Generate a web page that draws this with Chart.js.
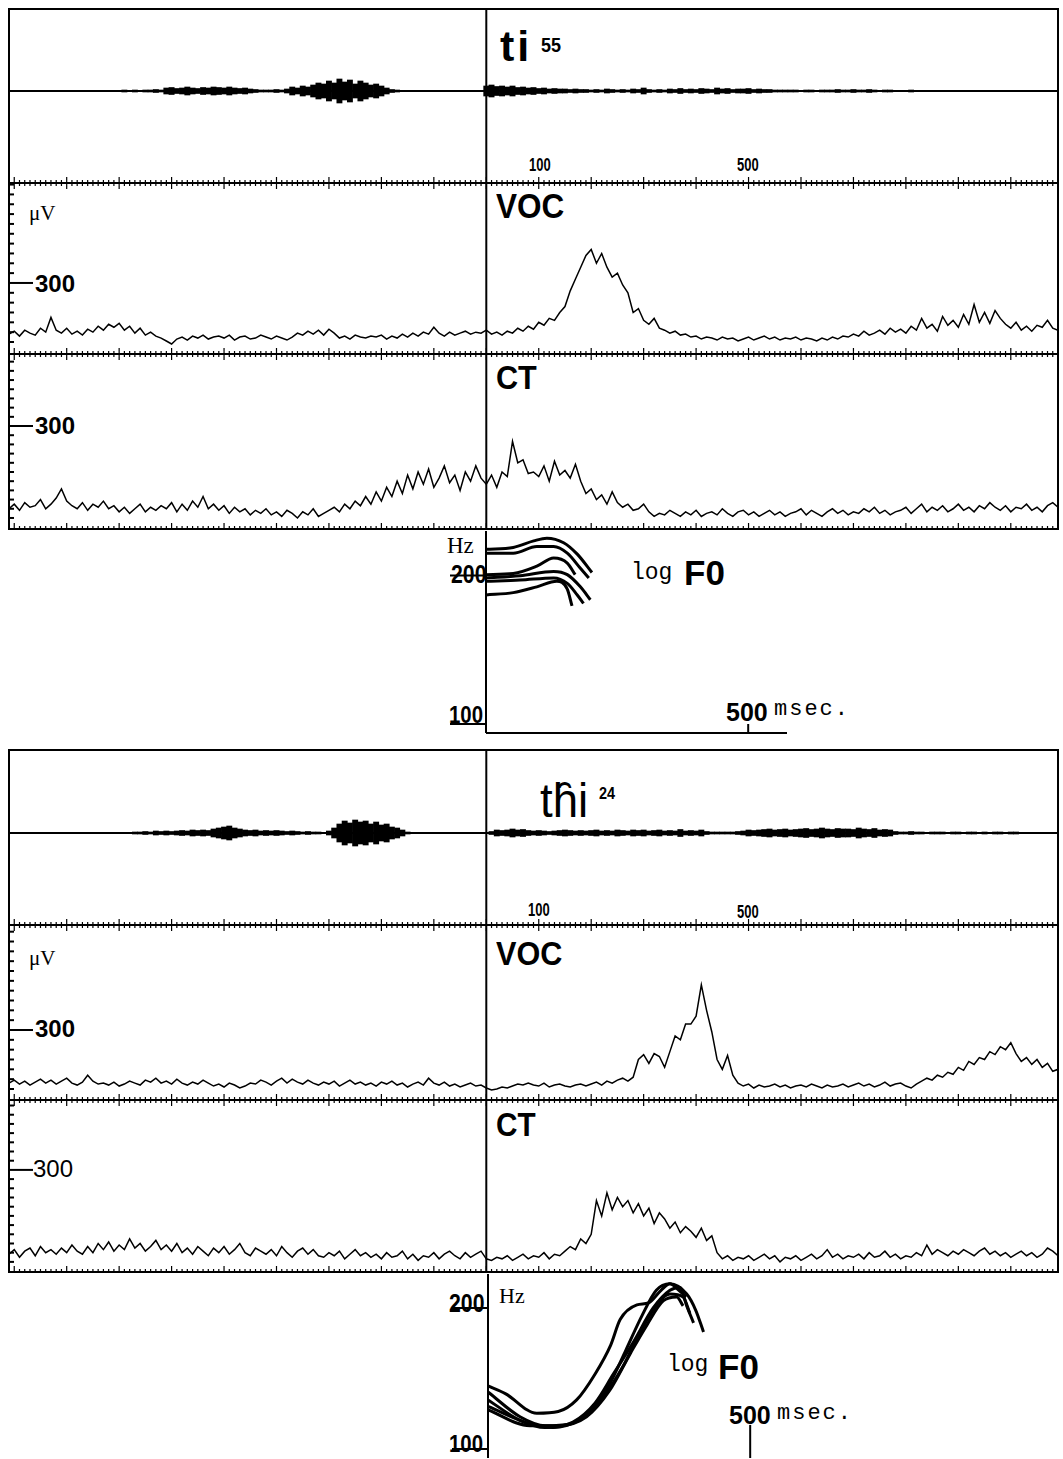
<!DOCTYPE html>
<html>
<head>
<meta charset="utf-8">
<script src="https://cdn.jsdelivr.net/npm/chart.js@4.4.1/dist/chart.umd.min.js"></script>
<style>
  html, body { margin: 0; padding: 0; background: #fff; }
  body { width: 1063px; height: 1459px; position: relative; overflow: hidden; }
  canvas { position: absolute; }
  .lbl { position: absolute; color: #000; white-space: nowrap; line-height: 1; transform-origin: left top; }
  .sans { font-family: "Liberation Sans", Arial, sans-serif; font-weight: bold; }
  .mono { font-family: "Liberation Mono", "DejaVu Sans Mono", monospace; }
  .serif { font-family: "Liberation Serif", "DejaVu Serif", serif; }
</style>
</head>
<body>

<!-- upper record: ti55 -->
<div class="lbl sans" style="left:500px;top:25px;font-size:43px;letter-spacing:3px">ti</div>
<div class="lbl sans" style="left:541px;top:35px;font-size:20px;transform:scaleX(0.9)">55</div>
<div class="lbl sans" style="left:529px;top:156px;font-size:18px;transform:scaleX(0.72)">100</div>
<div class="lbl sans" style="left:737px;top:156px;font-size:18px;transform:scaleX(0.72)">500</div>
<div class="lbl sans" style="left:496px;top:188px;font-size:35px;transform:scaleX(0.9)">VOC</div>
<div class="lbl serif" style="left:29px;top:203px;font-size:21px">μV</div>
<div class="lbl sans" style="left:35px;top:272px;font-size:24px">300</div>
<div class="lbl sans" style="left:496px;top:360px;font-size:34px;transform:scaleX(0.9)">CT</div>
<div class="lbl sans" style="left:35px;top:414px;font-size:24px">300</div>
<div class="lbl serif" style="left:447px;top:534px;font-size:23px">Hz</div>
<div class="lbl sans" style="left:451px;top:562px;font-size:25px;transform:scaleX(0.85)">200</div>
<div class="lbl mono" style="left:631px;top:562px;font-size:23px">log</div>
<div class="lbl sans" style="left:684px;top:555px;font-size:35px">F0</div>
<div class="lbl sans" style="left:449px;top:703px;font-size:24px;transform:scaleX(0.85)">100</div>
<div class="lbl sans" style="left:726px;top:700px;font-size:25px">500</div>
<div class="lbl mono" style="left:774px;top:699px;font-size:22px;letter-spacing:2px">msec.</div>

<!-- lower record: thi24 -->
<div class="lbl sans" style="left:540px;top:777px;font-size:48px;font-weight:normal;transform:scaleX(0.95)">th&#x311;i</div>
<div class="lbl sans" style="left:599px;top:785px;font-size:17px;transform:scaleX(0.85)">24</div>
<div class="lbl sans" style="left:528px;top:901px;font-size:18px;transform:scaleX(0.72)">100</div>
<div class="lbl sans" style="left:737px;top:903px;font-size:18px;transform:scaleX(0.72)">500</div>
<div class="lbl sans" style="left:496px;top:936px;font-size:34px;transform:scaleX(0.9)">VOC</div>
<div class="lbl serif" style="left:29px;top:948px;font-size:21px">μV</div>
<div class="lbl sans" style="left:35px;top:1017px;font-size:24px">300</div>
<div class="lbl sans" style="left:496px;top:1108px;font-size:33px;transform:scaleX(0.9)">CT</div>
<div class="lbl sans" style="left:33px;top:1157px;font-size:24px;font-weight:normal">300</div>
<div class="lbl sans" style="left:449px;top:1291px;font-size:25px;transform:scaleX(0.85)">200</div>
<div class="lbl serif" style="left:499px;top:1285px;font-size:22px">Hz</div>
<div class="lbl mono" style="left:667px;top:1354px;font-size:23px">log</div>
<div class="lbl sans" style="left:718px;top:1349px;font-size:35px">F0</div>
<div class="lbl sans" style="left:449px;top:1432px;font-size:24px;transform:scaleX(0.85)">100</div>
<div class="lbl sans" style="left:729px;top:1403px;font-size:25px">500</div>
<div class="lbl mono" style="left:777px;top:1403px;font-size:22px;letter-spacing:2px">msec.</div>

<canvas id="a1"></canvas><canvas id="v1"></canvas><canvas id="c1"></canvas><canvas id="f1"></canvas>
<canvas id="a2"></canvas><canvas id="v2"></canvas><canvas id="c2"></canvas><canvas id="f2"></canvas>

<script>
// every trace is sampled from -910 ms every 10 ms (201 samples), 0 = vertical line
const sampleStart = -910;
const sampleStep = 10;

// audio waveform envelope, relative amplitude
const ti55Audio = [
  0, 0, 0, 0, 0, 0, 0, 0, 0, 0,
  0, 0, 0, 0, 0, 0, 0, 0, 0, 0.5,
  0.5, 0.5, 1, 0.5, 1, 0.5, 1, 1, 1.5, 1,
  3, 3.5, 2.5, 3, 4, 3, 2.5, 3.5, 3, 4,
  3.5, 3, 4, 3, 2.5, 3, 2, 1.5, 1, 1,
  1, 1.5, 1, 2, 4, 3, 5, 4, 6, 8,
  7, 10, 8, 12, 9, 11, 7, 10, 8, 6,
  7, 5, 3, 1.5, 1, 0.5, 0.5, 0.5, 0.5, 0.5,
  0.5, 0.5, 0.5, 0.5, 0.5, 0, 0, 0, 0, 0,
  0, 5, 6, 4.5, 5, 4, 5, 3.5, 4, 3,
  3.5, 2.5, 3, 2, 2.5, 2, 2, 1.5, 2, 1.5,
  1.5, 1, 1.5, 1, 2, 1.5, 1, 1.5, 1, 2,
  1.5, 3, 1.5, 1, 1.5, 1, 2, 1.5, 2.5, 1.5,
  2, 1.5, 2.5, 2, 1.5, 3, 2, 2.5, 1.5, 2,
  2, 2.5, 1.5, 2, 1.5, 1.5, 1, 1, 1, 1,
  1, 0.5, 1, 1, 0.5, 1, 1, 1, 1.5, 1,
  1, 1.5, 1, 1, 1.5, 1, 0.5, 1, 1, 0.5,
  0.5, 0.5, 1, 0.5, 0.5, 0.5, 0.5, 0.5, 0.5, 0.5,
  0.5, 0, 0, 0, 0, 0, 0, 0, 0, 0,
  0, 0, 0, 0, 0, 0, 0, 0, 0, 0,
  0
];
const thi24Audio = [
  0, 0, 0, 0, 0, 0, 0, 0, 0, 0,
  0, 0, 0, 0, 0, 0, 0, 0, 0, 0,
  0, 0, 0, 0.5, 1, 1, 1.5, 1, 2, 1.5,
  2, 1.5, 2, 2.5, 2, 3, 2.5, 3, 2.5, 4,
  5, 6, 7, 5, 4, 3, 2.5, 3, 2, 2.5,
  2, 2.5, 2, 1.5, 2, 1.5, 1, 1.5, 1, 1,
  0.5, 2, 5, 9, 12, 10, 13, 11, 12, 9,
  11, 8, 9, 6, 5, 3, 1, 0.5, 0.5, 0.5,
  0.5, 0.5, 0.5, 0.5, 0.5, 0.5, 0.5, 0.5, 0.5, 0.5,
  0.5, 0.5, 1.5, 3, 2.5, 3, 4, 3, 3.5, 2.5,
  2, 2.5, 2, 1.5, 2, 2.5, 3, 2.5, 2, 2.5,
  2, 2.5, 3, 2, 2.5, 2, 3, 2.5, 2, 3,
  2.5, 3, 2, 2.5, 3, 2, 2.5, 2, 3.5, 2,
  2.5, 2, 3, 1.5, 1, 1, 1, 1, 1, 1.5,
  2, 3, 2.5, 3, 3.5, 4, 3, 3.5, 4, 3,
  3.5, 4, 4.5, 3.5, 4, 5, 4, 3.5, 4.5, 4,
  4, 3.5, 5, 4, 3.5, 4.5, 3, 3.5, 3, 1.5,
  1, 1, 1.5, 1, 1, 0.5, 1, 1, 1, 0.5,
  1, 1, 0.5, 1, 1, 0.5, 1, 0.5, 1, 1,
  0.5, 1, 1, 0.5, 0.5, 0.5, 0.5, 0.5, 0.5, 0.5,
  0.5
];

// EMG, microvolts
const ti55VOC = [
  40, 55, 30, 60, 45, 35, 70, 50, 125, 60,
  45, 70, 40, 55, 35, 65, 50, 80, 60, 90,
  75, 95, 60, 80, 45, 70, 35, 50, 30, 20,
  5, -10, 15, 25, 10, 30, 20, 35, 15, 25,
  30, 20, 35, 10, 25, 30, 15, 20, 35, 25,
  15, 30, 20, 10, 25, 45, 35, 55, 40, 60,
  35, 65, 45, 20, 30, 15, 35, 25, 20, 30,
  25, 35, 15, 30, 20, 40, 25, 45, 30, 50,
  40, 75, 45, 30, 50, 35, 45, 55, 40, 50,
  45, 60, 40, 50, 35, 55, 45, 70, 55, 80,
  65, 100, 85, 120, 110, 150, 180, 260, 320, 380,
  440, 470, 400, 450, 380, 330, 350, 290, 250, 150,
  170, 110, 90, 120, 70, 60, 45, 55, 35, 40,
  25, 30, 15, 25, 20, 10, 25, 15, 20, 5,
  15, 25, 10, 20, 30, 15, 25, 10, 20, 15,
  25, 10, 20, 15, 5, 20, 10, 25, 15, 30,
  25, 40, 30, 55, 35, 45, 60, 40, 70, 50,
  65, 45, 80, 60, 120, 70, 90, 55, 130, 85,
  110, 75, 140, 90, 190, 100, 150, 95, 160, 120,
  90, 70, 100, 60, 80, 55, 85, 75, 110, 70,
  60
];
const ti55CT = [
  30, 45, 25, 50, 35, 40, 60, 30, 45, 65,
  95, 55, 40, 30, 50, 25, 45, 35, 55, 30,
  40, 20, 35, 15, 30, 45, 20, 35, 25, 40,
  30, 50, 20, 45, 25, 55, 35, 70, 30, 45,
  25, 40, 15, 35, 20, 30, 10, 25, 15, 30,
  10, 20, 5, 25, 15, 0, 20, 10, 30, 5,
  15, 25, 35, 20, 45, 30, 55, 40, 70, 45,
  85, 55, 100, 70, 120, 80, 140, 95, 150, 110,
  160, 100, 130, 170, 115, 140, 90, 150, 120, 170,
  130, 110, 140, 100, 150, 135, 250, 180, 190, 145,
  150, 135, 170, 120, 185, 140, 155, 130, 175, 120,
  80, 95, 60, 75, 45, 85, 50, 35, 45, 25,
  30, 45, 20, 5, 15, 10, 25, 15, 5, 20,
  10, 25, 5, 15, 20, 10, 30, 15, 5, 20,
  25, 10, 20, 5, 15, 25, 10, 20, 5, 15,
  20, 30, 10, 25, 15, 5, 20, 30, 15, 25,
  10, 20, 15, 30, 20, 35, 15, 25, 10, 20,
  25, 35, 15, 30, 45, 20, 35, 25, 40, 20,
  30, 45, 25, 35, 20, 40, 30, 50, 35, 25,
  40, 20, 35, 30, 45, 25, 35, 20, 40, 50,
  35
];
const thi24VOC = [
  30, 45, 25, 40, 20, 35, 50, 30, 45, 25,
  40, 55, 30, 20, 35, 70, 40, 25, 30, 20,
  35, 15, 25, 40, 30, 20, 45, 35, 55, 30,
  40, 25, 50, 30, 20, 35, 25, 45, 30, 15,
  25, 10, 30, 20, 5, 15, 30, 25, 45, 35,
  20, 40, 55, 30, 50, 35, 25, 45, 30, 20,
  35, 25, 40, 15, 30, 45, 25, 35, 20, 30,
  15, 35, 25, 40, 20, 30, 10, 25, 35, 20,
  55, 30, 20, 35, 15, 25, 10, 20, 30, 15,
  20, 5, -5, 0, 10, 5, 15, 25, 20, 30,
  20, 15, 30, 10, 20, 25, 15, 10, 20, 25,
  15, 25, 35, 20, 40, 30, 45, 55, 40, 60,
  150, 175, 130, 180, 165, 110, 190, 270, 250, 330,
  330, 370, 530, 400, 290, 150, 100, 170, 70, 30,
  15, 25, 5, 20, 10, 15, 25, 10, 20, 5,
  15, 20, 10, 25, 15, 5, 20, 10, 15, 25,
  10, 20, 30, 15, 25, 10, 20, 35, 15, 25,
  30, 15, 5, 25, 40, 55, 45, 70, 60, 85,
  75, 110, 95, 140, 125, 160, 150, 190, 175, 215,
  200, 235, 180, 140, 160, 125, 150, 110, 130, 90,
  100
];
const thi24CT = [
  25, 40, 15, 35, 45, 20, 50, 30, 40, 25,
  45, 30, 55, 35, 25, 50, 30, 60, 40, 65,
  35, 55, 40, 75, 45, 60, 35, 50, 70, 40,
  55, 35, 60, 30, 45, 25, 50, 35, 20, 45,
  30, 50, 25, 40, 60, 30, 20, 45, 35, 25,
  40, 20, 50, 30, 15, 35, 45, 25, 40, 20,
  15, 30, 20, 35, 10, 25, 40, 20, 30, 15,
  25, 10, 30, 15, 20, 35, 10, 25, 5, 20,
  15, 30, 10, 25, 35, 20, 10, 30, 15, 25,
  35, 10, 5, 15, 10, 20, 5, 15, 25, 10,
  20, 15, 30, 10, 25, 20, 35, 50, 40, 75,
  60, 90, 200, 150, 225, 170, 210, 180, 200, 160,
  190, 150, 175, 125, 160, 140, 110, 130, 95, 115,
  100, 80, 110, 70, 85, 30, 10, 20, 5, 15,
  10, 20, 5, 15, 25, 10, 20, 0, 15, 10,
  20, 5, 15, 25, 10, 20, 40, 15, 25, 10,
  20, 15, 25, 10, 30, 15, 20, 35, 15, 25,
  10, 20, 15, 30, 20, 55, 25, 40, 30, 20,
  35, 25, 40, 30, 20, 35, 45, 25, 35, 20,
  30, 15, 25, 35, 20, 30, 15, 25, 45, 35,
  20
];

// F0 contours of the repetitions, [ms, Hz]
const ti55F0 = [
  [[0, 224], [52, 226], [91, 233], [116, 236], [148, 231], [174, 219], [202, 201]],
  [[0, 220], [52, 220], [97, 227], [129, 227], [155, 220], [180, 205], [196, 196]],
  [[0, 199], [52, 200], [97, 207], [129, 215], [155, 210], [170, 199]],
  [[0, 196], [65, 198], [129, 202], [155, 199], [180, 188], [199, 177]],
  [[0, 193], [65, 194], [129, 196], [155, 191], [174, 181], [186, 174]],
  [[0, 181], [52, 183], [97, 188], [135, 193], [155, 186], [164, 172]]
];
const thi24F0 = [
  [[0, 135], [33, 130], [93, 118], [134, 119], [169, 126], [204, 143], [234, 165], [252, 187], [284, 201], [306, 203], [330, 216], [347, 223], [364, 216], [378, 209]],
  [[0, 131], [61, 116], [109, 111], [156, 112], [197, 120], [233, 137], [263, 161], [293, 190], [321, 216], [347, 223], [379, 212], [396, 196], [411, 176]],
  [[0, 126], [61, 114], [109, 110], [162, 113], [204, 124], [239, 143], [278, 168], [315, 198], [347, 216], [366, 219], [379, 200], [392, 184]],
  [[0, 122], [80, 112], [124, 110], [172, 114], [220, 128], [258, 149], [290, 176], [328, 205], [347, 212], [372, 209], [385, 193]],
  [[0, 120], [80, 111], [134, 111], [188, 116], [232, 132], [271, 158], [303, 182], [334, 205], [360, 209], [372, 200]]
];

const sampleEnd = sampleStart + (ti55VOC.length - 1) * sampleStep;
const toPoints = arr => arr.map((v, i) => ({ x: sampleStart + i * sampleStep, y: v }));

// frame, time ticks, amplitude ticks and F0 axes
const decor = {
  id: 'decor',
  afterDatasetsDraw(chart, args, o) {
    const { ctx, chartArea: a } = chart;
    const x = chart.scales.x, y = chart.scales.y;
    const seg = (x1, y1, x2, y2, w) => {
      ctx.lineWidth = w;
      ctx.beginPath();
      ctx.moveTo(x1, y1);
      ctx.lineTo(x2, y2);
      ctx.stroke();
    };
    ctx.save();
    ctx.strokeStyle = '#000';
    if (o.frame) {
      ctx.lineWidth = 2;
      ctx.strokeRect(a.left, a.top, a.width, a.height);
      const x0 = x.getPixelForValue(0);
      seg(x0, a.top, x0, a.bottom, 2);
    }
    if (o.timeTicks) {
      for (let t = x.min; t <= x.max; t += 10) {
        const px = x.getPixelForValue(t);
        const len = t % 100 === 0 ? 6 : 3;
        if (o.timeTicks.includes('bottom')) seg(px, a.bottom, px, a.bottom - len, 1.2);
        if (o.timeTicks.includes('top')) seg(px, a.top, px, a.top + len, 1.2);
      }
    }
    if (o.uvStep) {
      for (let v = 0; v <= y.max; v += o.uvStep) {
        const py = y.getPixelForValue(v);
        seg(a.left, py, a.left + (v === 300 ? 24 : 5), py, 2);
      }
    }
    if (o.f0) {
      const x0 = x.getPixelForValue(0);
      seg(x0, a.top, x0, a.bottom, 2);
      if (o.f0.baseLine) seg(x0, a.bottom, a.right, a.bottom, 2);
      const x5 = x.getPixelForValue(500);
      seg(x5, o.f0.tickTop(y), x5, a.bottom, 2);
      [100, 200].forEach(hz => {
        const py = y.getPixelForValue(hz) + 2;
        seg(x0 - 36, py, x0, py, 2);
      });
    }
    ctx.restore();
  }
};
Chart.register(decor);

function place(id, left, top, right, bottom, pad) {
  const c = document.getElementById(id);
  c.width = right - left + pad[3] + pad[1];
  c.height = bottom - top + pad[0] + pad[2];
  c.style.left = (left - pad[3]) + 'px';
  c.style.top = (top - pad[0]) + 'px';
  return c;
}

function baseOptions(pad, xMax, y, decorOpts) {
  return {
    responsive: false,
    animation: false,
    events: [],
    layout: { padding: { top: pad[0], right: pad[1], bottom: pad[2], left: pad[3] } },
    plugins: { legend: { display: false }, tooltip: { enabled: false }, decor: decorOpts },
    scales: {
      x: {
        type: 'linear', offset: false, bounds: 'data',
        min: xMax ? 0 : sampleStart, max: xMax || sampleEnd,
        display: false, grid: { offset: false }
      },
      y: Object.assign({ display: false }, y)
    }
  };
}

function audioPanel(id, top, bottom, env, yMin, yMax) {
  const pad = [3, 3, 3, 3];
  const c = place(id, 9, top, 1058, bottom, pad);
  new Chart(c, {
    type: 'line',
    data: {
      datasets: [
        {
          type: 'bar',
          data: env.map((v, i) => ({ x: sampleStart + i * sampleStep, y: [-v, v] })),
          backgroundColor: '#000',
          borderWidth: 0,
          barPercentage: 1,
          categoryPercentage: 1
        },
        {
          type: 'line',
          data: [{ x: sampleStart, y: 0 }, { x: sampleEnd, y: 0 }],
          borderColor: '#000',
          borderWidth: 2,
          pointRadius: 0
        }
      ]
    },
    options: baseOptions(pad, null, { min: yMin, max: yMax }, { frame: true, timeTicks: ['bottom'] })
  });
}

function emgPanel(id, top, bottom, values, yMin, yMax, step) {
  const pad = [3, 3, 3, 3];
  const c = place(id, 9, top, 1058, bottom, pad);
  new Chart(c, {
    type: 'line',
    data: {
      datasets: [{
        data: toPoints(values),
        borderColor: '#000',
        borderWidth: 1.5,
        pointRadius: 0,
        tension: 0
      }]
    },
    options: baseOptions(pad, null, { min: yMin, max: yMax },
      { frame: true, timeTicks: ['top', 'bottom'], uvStep: step })
  });
}

function f0Panel(id, left, top, right, bottom, contours, xMax, yMin, yMax, f0Opts) {
  const pad = [2, 4, 3, 42];
  const c = place(id, left, top, right, bottom, pad);
  new Chart(c, {
    type: 'line',
    data: {
      datasets: contours.map(cv => ({
        data: cv.map(p => ({ x: p[0], y: p[1] })),
        borderColor: '#000',
        borderWidth: 3,
        pointRadius: 0,
        tension: 0.4,
        cubicInterpolationMode: 'monotone'
      }))
    },
    options: baseOptions(pad, xMax, { type: 'logarithmic', min: yMin, max: yMax }, { f0: f0Opts })
  });
}

// upper record
audioPanel('a1', 9, 183, ti55Audio, -92, 82);
emgPanel('v1', 183, 354, ti55VOC, -61, 808, 50);
emgPanel('c1', 354, 529, ti55CT, -36, 535, 30);
f0Panel('f1', 486, 531, 787, 733, ti55F0, 574, 95, 244,
  { baseLine: true, tickTop: y => y.bottom - 9 });

// lower record
audioPanel('a2', 750, 925, thi24Audio, -92, 83);
emgPanel('v2', 925, 1100, thi24VOC, -56, 834, 50);
emgPanel('c2', 1100, 1272, thi24CT, -33, 528, 30);
f0Panel('f2', 488, 1274, 800, 1458, thi24F0, 595, 94.7, 234,
  { baseLine: false, tickTop: y => y.getPixelForValue(100) - 22 });
</script>
